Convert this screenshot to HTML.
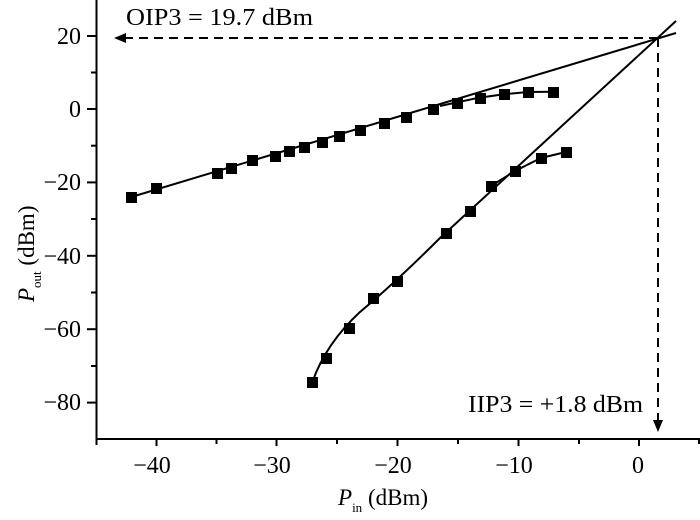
<!DOCTYPE html>
<html><head><meta charset="utf-8"><style>
body{margin:0;background:#fff;}
svg{display:block;font-family:"Liberation Serif",serif;}
</style></head><body>
<svg width="700" height="520" viewBox="0 0 700 520" xmlns="http://www.w3.org/2000/svg">
<g stroke="#000" stroke-width="2" fill="none">
<line x1="96.5" y1="0" x2="96.5" y2="440"/>
<line x1="95.5" y1="439" x2="700" y2="439"/>
<!-- x ticks -->
<g>
<line x1="96.5" y1="439" x2="96.5" y2="445"/>
<line x1="156.5" y1="439" x2="156.5" y2="446"/>
<line x1="216.5" y1="439" x2="216.5" y2="444"/>
<line x1="276.5" y1="439" x2="276.5" y2="446"/>
<line x1="337" y1="439" x2="337" y2="444"/>
<line x1="397.5" y1="439" x2="397.5" y2="446"/>
<line x1="458" y1="439" x2="458" y2="444"/>
<line x1="518.5" y1="439" x2="518.5" y2="446"/>
<line x1="579" y1="439" x2="579" y2="444"/>
<line x1="639" y1="439" x2="639" y2="446"/>
<line x1="699" y1="439" x2="699" y2="444"/>
</g>
<!-- y ticks -->
<g>
<line x1="87" y1="36" x2="96" y2="36"/>
<line x1="91" y1="72.5" x2="96" y2="72.5"/>
<line x1="87" y1="109" x2="96" y2="109"/>
<line x1="91" y1="145.7" x2="96" y2="145.7"/>
<line x1="87" y1="182.4" x2="96" y2="182.4"/>
<line x1="91" y1="219" x2="96" y2="219"/>
<line x1="87" y1="255.8" x2="96" y2="255.8"/>
<line x1="91" y1="292.5" x2="96" y2="292.5"/>
<line x1="87" y1="329.2" x2="96" y2="329.2"/>
<line x1="91" y1="366" x2="96" y2="366"/>
<line x1="87" y1="402.6" x2="96" y2="402.6"/>
</g>
<!-- fit lines -->
<line x1="128" y1="198" x2="676" y2="33"/>
<path d="M312,383 C320,360 335,335 360,312 C390,287 420,258 440,238 L676,21"/>
<path d="M440,106 L479,97.7 L504,94.3 L528,92 L553,91.7"/>
<path d="M491,186 L515,171 L541,158 L566,152"/>
<!-- dashed -->
<g stroke-dasharray="9,6">
<line x1="658" y1="38" x2="124" y2="38"/>
<line x1="658" y1="38" x2="658" y2="420"/>
</g>
</g>
<polygon points="114,38 126,33 126,43" fill="#000"/>
<polygon points="658,432 653,420 663,420" fill="#000"/>
<!-- markers -->
<g fill="#000">
<rect x="126" y="192" width="11" height="11"/>
<rect x="151" y="183" width="11" height="11"/>
<rect x="212" y="168" width="11" height="11"/>
<rect x="226" y="163" width="11" height="11"/>
<rect x="247" y="155" width="11" height="11"/>
<rect x="270" y="151" width="11" height="11"/>
<rect x="284" y="146" width="11" height="11"/>
<rect x="299" y="142" width="11" height="11"/>
<rect x="317" y="137" width="11" height="11"/>
<rect x="334" y="131" width="11" height="11"/>
<rect x="355" y="125" width="11" height="11"/>
<rect x="379" y="118" width="11" height="11"/>
<rect x="401" y="112" width="11" height="11"/>
<rect x="428" y="104" width="11" height="11"/>
<rect x="452" y="98" width="11" height="11"/>
<rect x="475" y="93" width="11" height="11"/>
<rect x="499" y="89" width="11" height="11"/>
<rect x="523" y="87" width="11" height="11"/>
<rect x="548" y="87" width="11" height="11"/>
<rect x="307" y="377" width="11" height="11"/>
<rect x="321" y="353" width="11" height="11"/>
<rect x="344" y="323" width="11" height="11"/>
<rect x="368" y="293" width="11" height="11"/>
<rect x="392" y="276" width="11" height="11"/>
<rect x="441" y="228" width="11" height="11"/>
<rect x="465" y="206" width="11" height="11"/>
<rect x="486" y="181" width="11" height="11"/>
<rect x="510" y="166" width="11" height="11"/>
<rect x="536" y="153" width="11" height="11"/>
<rect x="561" y="147" width="11" height="11"/>
</g>
<!-- labels -->
<g font-size="24" fill="#000" text-anchor="middle">
<text x="152" y="473">−40</text>
<text x="272" y="473">−30</text>
<text x="393" y="473">−20</text>
<text x="514" y="473">−10</text>
<text x="638" y="473">0</text>
</g>
<g font-size="24" fill="#000" text-anchor="end">
<text x="81" y="44">20</text>
<text x="81" y="117">0</text>
<text x="81" y="190">−20</text>
<text x="81" y="264">−40</text>
<text x="81" y="337">−60</text>
<text x="81" y="410">−80</text>
</g>
<text x="126" y="25" font-size="24" textLength="187" lengthAdjust="spacingAndGlyphs">OIP3 = 19.7 dBm</text>
<text x="468" y="412" font-size="24" textLength="175" lengthAdjust="spacingAndGlyphs">IIP3 = +1.8 dBm</text>
<text x="338" y="505" font-size="23"><tspan font-style="italic">P</tspan><tspan font-size="13" dy="7">in</tspan><tspan dy="-7"> (dBm)</tspan></text>
<text transform="translate(34,302) rotate(-90)" font-size="23"><tspan font-style="italic">P</tspan><tspan font-size="13" dy="7">out</tspan><tspan dy="-7"> (dBm)</tspan></text>
</svg>
</body></html>
